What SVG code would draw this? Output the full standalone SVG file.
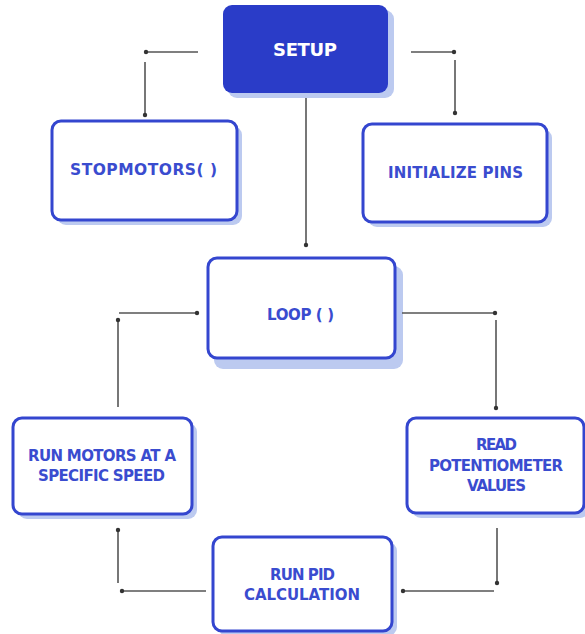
<svg xmlns="http://www.w3.org/2000/svg" width="585" height="634" viewBox="0 0 585 634">
<defs>
<marker id="dot" viewBox="0 0 6 6" refX="3" refY="3" markerWidth="6" markerHeight="6" markerUnits="userSpaceOnUse">
<circle cx="3" cy="3" r="2.2" fill="#333"/>
</marker>
<style>
.box{fill:#ffffff;stroke:#3446cf;stroke-width:3}
.shadow{fill:#bccaf0}
.lbl{font-family:"DejaVu Sans","Liberation Sans",sans-serif;font-weight:700;font-size:15px;fill:#3a4ccf;text-anchor:middle}
.conn line{stroke:#555;stroke-width:1.6;marker-end:url(#dot)}
</style>
</defs>
<rect width="585" height="634" fill="#ffffff"/>
<g id="setup">
<rect x="228" y="10" width="166" height="88" rx="9" class="shadow"/>
<rect x="223" y="5" width="165" height="88" rx="9" fill="#2a3cc8"/>
<text x="305" y="56" class="lbl" style="fill:#ffffff;font-size:18px" textLength="64">SETUP</text>
</g>
<g id="stopmotors">
<rect x="57" y="126" width="185" height="99" rx="9" class="shadow"/>
<rect x="52" y="121" width="185" height="99" rx="9" class="box"/>
<text x="143.5" y="175" class="lbl" style="font-size:15.5px" textLength="147">STOPMOTORS( )</text>
</g>
<g id="initpins">
<rect x="368" y="129" width="184" height="98" rx="9" class="shadow"/>
<rect x="363" y="124" width="184" height="98" rx="9" class="box"/>
<text x="455.5" y="178" class="lbl" textLength="135">INITIALIZE PINS</text>
</g>
<g id="loop">
<rect x="214" y="266" width="189" height="103" rx="9" class="shadow"/>
<rect x="208" y="258" width="187" height="100" rx="9" class="box"/>
<text x="300.5" y="320" class="lbl" textLength="67">LOOP ( )</text>
</g>
<g id="runmotors">
<rect x="18" y="423" width="179" height="96" rx="9" class="shadow"/>
<rect x="13" y="418" width="179" height="96" rx="9" class="box"/>
<text x="102" y="461" class="lbl" textLength="148">RUN MOTORS AT A</text>
<text x="101.5" y="481" class="lbl" textLength="127">SPECIFIC SPEED</text>
</g>
<g id="readpot">
<rect x="412" y="423" width="177" height="95" rx="9" class="shadow"/>
<rect x="407" y="418" width="177" height="95" rx="9" class="box"/>
<text x="496.5" y="450" class="lbl" textLength="41">READ</text>
<text x="496" y="471" class="lbl" textLength="134">POTENTIOMETER</text>
<text x="496.5" y="491" class="lbl" textLength="59">VALUES</text>
</g>
<g id="pid">
<rect x="218" y="542" width="179" height="94" rx="9" class="shadow"/>
<rect x="213" y="537" width="179" height="94" rx="9" class="box"/>
<text x="302.5" y="580" class="lbl" textLength="65">RUN PID</text>
<text x="302" y="600" class="lbl" textLength="116">CALCULATION</text>
</g>
<g id="connectors" class="conn">
<line x1="198" y1="52" x2="146" y2="52"/>
<line x1="145" y1="62" x2="145" y2="115"/>
<line x1="411" y1="52" x2="454" y2="52"/>
<line x1="455" y1="60" x2="455" y2="113"/>
<line x1="306" y1="98" x2="306" y2="245"/>
<line x1="402" y1="313" x2="495" y2="313"/>
<line x1="496" y1="320" x2="496" y2="408"/>
<line x1="497" y1="528" x2="497" y2="583"/>
<line x1="494" y1="591" x2="403" y2="591"/>
<line x1="206" y1="591" x2="122" y2="591"/>
<line x1="118" y1="583" x2="118" y2="530"/>
<line x1="118" y1="407" x2="118" y2="320"/>
<line x1="119" y1="313" x2="197" y2="313"/>
</g>
</svg>
